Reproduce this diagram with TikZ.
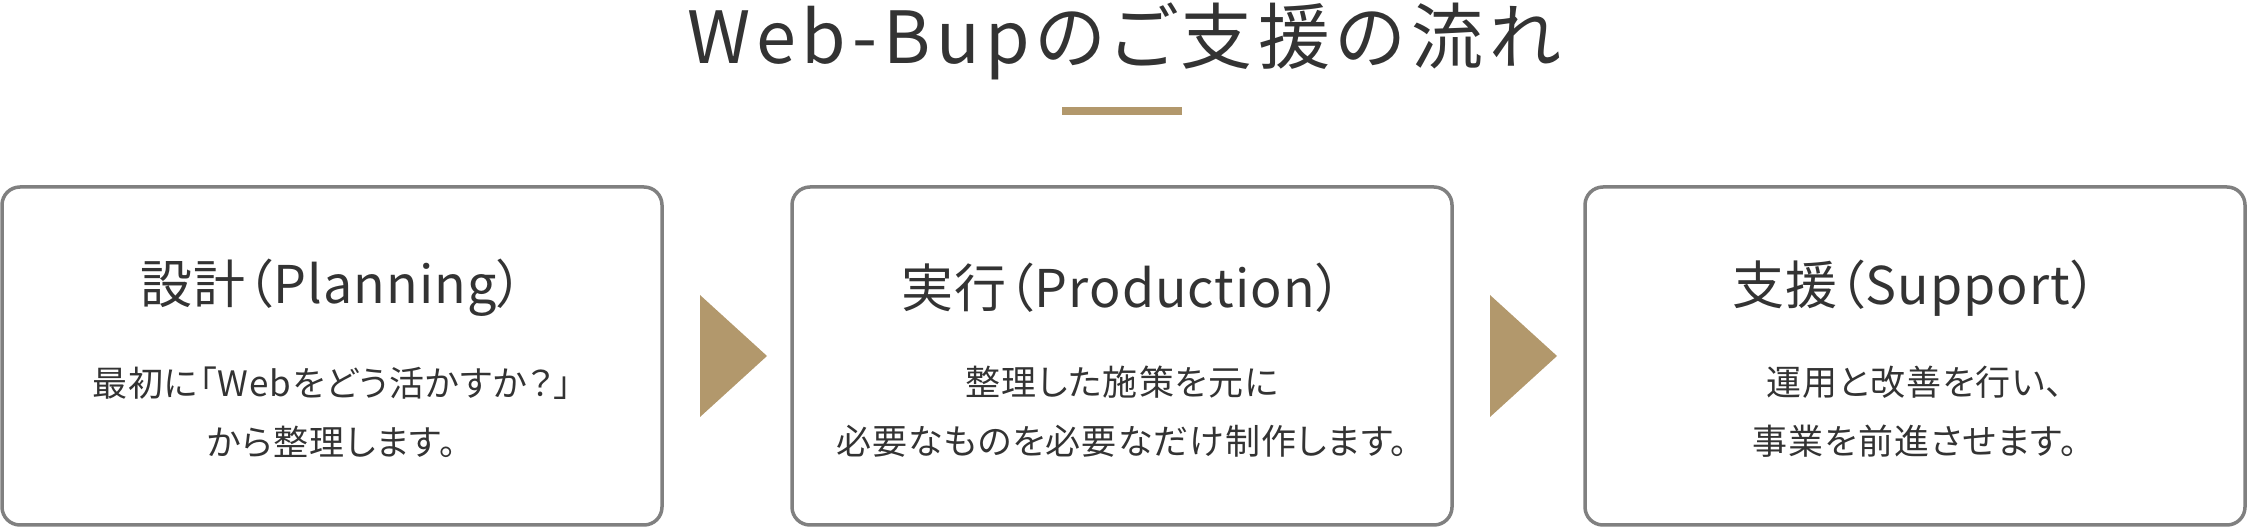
\documentclass[tikz,border=0pt]{standalone}
\usepackage{fontspec}
\setmainfont{Noto Sans CJK JP}[RawFeature=+palt]
\newfontfamily\titlefont{Noto Sans CJK JP}[RawFeature=+palt, LetterSpace=8]
\newfontfamily\headfont{Noto Sans CJK JP}[RawFeature=+palt, LetterSpace=2]
\newfontfamily\bodyfont{Noto Sans CJK JP}[RawFeature=+palt, LetterSpace=3]
\usetikzlibrary{calc}
\definecolor{textgray}{HTML}{333333}
\definecolor{framegray}{HTML}{808080}
\definecolor{gold}{RGB}{178,152,108}

\begin{document}
\begin{tikzpicture}[x=0.5pt, y=-0.5pt,
    stepbox/.style={draw=framegray, line width=1.75pt, rounded corners=9pt,
      minimum width=330pt, minimum height=169pt, inner sep=0pt, outer sep=0pt},
    headtext/.style={text=textgray, inner sep=0pt,
      font=\headfont\fontsize{26pt}{30pt}\selectfont},
    bodytext/.style={text=textgray, inner sep=0pt, align=center,
      font=\bodyfont\fontsize{17.5pt}{29.5pt}\selectfont}]
    \useasboundingbox (0,0) rectangle (2248,528);

    % title
    \node[text=textgray, inner sep=0pt, font=\titlefont\fontsize{36pt}{40pt}\selectfont] (title) at (1124,41) {Web-Bupのご支援の流れ};
    \fill[gold] (1062,107) rectangle (1182,115);

    % steps
    \node[stepbox] (plan) at (332,356) {};
    \node[stepbox] (prod) at (1122,356) {};
    \node[stepbox] (supp) at (1915,356) {};

    \node[headtext] (planhead) at (332,288) {設計（Planning）};
    \node[headtext] (prodhead) at (1122,288) {実行（Production）};
    \node[headtext] (supphead) at (1915,288) {支援（Support）};

    \node[bodytext] (planbody) at (332,412) {最初に「Webをどう活かすか？」\\から整理します。};
    \node[bodytext] (prodbody) at (1122,412) {整理した施策を元に\\必要なものを必要なだけ制作します。};
    \node[bodytext] (suppbody) at (1915,412) {運用と改善を行い、\\事業を前進させます。};

    % arrows between steps
    \foreach \a/\b in {plan/prod, prod/supp}
      \fill[gold] ($(\a.east)+(38,-61)$) -- ($(\a.east)+(105,0)$) -- ($(\a.east)+(38,61)$) -- cycle;
  \end{tikzpicture}
\end{document}
